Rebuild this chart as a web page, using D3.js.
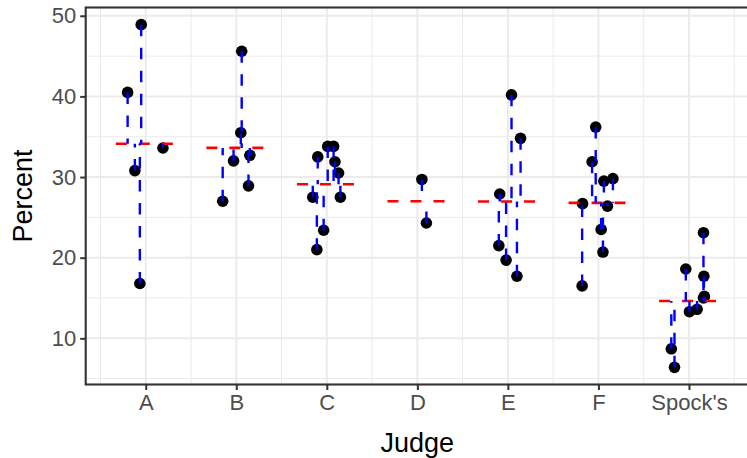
<!DOCTYPE html>
<html>
<head>
<meta charset="utf-8">
<script src="https://cdn.jsdelivr.net/npm/d3@7"></script>
<style>
  html, body { margin: 0; padding: 0; background: #fff; }
  svg { display: block; font-family: "Liberation Sans", Arial, Helvetica, sans-serif; }
</style>
</head>
<body>
<svg id="chart" width="747" height="458"></svg>
<script>
// Percent of women on venires, by judge
const judges = ["A", "B", "C", "D", "E", "F", "Spock's"];

const pctA = [48.9, 40.5, 30.8, 16.8, 33.6];
const pctB = [45.6, 35.5, 32.0, 32.7, 28.9, 27.0];
const pctC = [33.8, 33.8, 32.5, 31.9, 30.5, 27.5, 27.5, 23.4, 21.0];
const pctD = [29.7, 24.3];
const pctE = [40.2, 34.8, 27.9, 21.5, 19.7, 17.7];
const pctF = [36.2, 31.9, 29.5, 29.8, 26.7, 26.4, 23.5, 20.7, 16.5];
const pctSpock = [23.1, 18.6, 17.7, 15.2, 15.0, 13.6, 13.3, 8.7, 6.4];

// horizontal jitter of each venire, in category units
const jitA = [-0.05, -0.20, -0.12, -0.065, 0.19];
const jitB = [0.06, 0.05, -0.03, 0.15, 0.135, -0.15];
const jitC = [0.01, 0.075, -0.10, 0.09, 0.13, -0.155, 0.15, -0.035, -0.11];
const jitD = [0.05, 0.10];
const jitE = [0.04, 0.14, -0.09, -0.10, -0.02, 0.10];
const jitF = [-0.03, -0.07, 0.06, 0.16, -0.175, 0.10, 0.03, 0.05, -0.18];
const jitSpock = [0.16, -0.035, 0.165, 0.17, 0.16, 0.09, 0.005, -0.195, -0.16];

const yTicks = [10, 20, 30, 40, 50];
const yMinor = [5, 15, 25, 35, 45];

const groups = [pctA, pctB, pctC, pctD, pctE, pctF, pctSpock];
const jitters = [jitA, jitB, jitC, jitD, jitE, jitF, jitSpock];

const points = [];
const means = [];
groups.forEach((vals, i) => {
  const m = d3.mean(vals);
  means.push({ pos: i + 1, mean: m });
  vals.forEach((v, j) => points.push({ pos: i + 1 + jitters[i][j], value: v, mean: m }));
});

const halfWidth = 0.33;

const svg = d3.select("#chart");
const panel = { left: 85.7, top: 7.5, right: 749, bottom: 384.5 };

const x = d3.scaleLinear().domain([0.337, 7.663]).range([panel.left, panel.right]);
const y = d3.scaleLinear().domain([4.275, 51.025]).range([panel.bottom, panel.top]);

svg.append("defs").append("clipPath").attr("id", "clip")
  .append("rect")
  .attr("x", panel.left).attr("y", panel.top)
  .attr("width", panel.right - panel.left).attr("height", panel.bottom - panel.top);

const grid = svg.append("g").attr("clip-path", "url(#clip)");
const xMinor = d3.range(0.5, 8, 1);
const xMajor = d3.range(1, 8, 1);

grid.selectAll(".ymin").data(yMinor).join("line")
  .attr("x1", panel.left).attr("x2", panel.right)
  .attr("y1", d => y(d)).attr("y2", d => y(d))
  .attr("stroke", "#EBEBEB").attr("stroke-width", 1);
grid.selectAll(".xmin").data(xMinor).join("line")
  .attr("y1", panel.top).attr("y2", panel.bottom)
  .attr("x1", d => x(d)).attr("x2", d => x(d))
  .attr("stroke", "#EBEBEB").attr("stroke-width", 1);
grid.selectAll(".ymaj").data(yTicks).join("line")
  .attr("x1", panel.left).attr("x2", panel.right)
  .attr("y1", d => y(d)).attr("y2", d => y(d))
  .attr("stroke", "#EBEBEB").attr("stroke-width", 2);
grid.selectAll(".xmaj").data(xMajor).join("line")
  .attr("y1", panel.top).attr("y2", panel.bottom)
  .attr("x1", d => x(d)).attr("x2", d => x(d))
  .attr("stroke", "#EBEBEB").attr("stroke-width", 2);

const marks = svg.append("g").attr("clip-path", "url(#clip)");

// venire points
marks.selectAll("circle").data(points).join("circle")
  .attr("cx", d => x(d.pos)).attr("cy", d => y(d.value))
  .attr("r", 5.8).attr("fill", "#000");

// judge means
marks.selectAll(".mean").data(means).join("line")
  .attr("x1", d => x(d.pos - halfWidth)).attr("x2", d => x(d.pos + halfWidth))
  .attr("y1", d => y(d.mean)).attr("y2", d => y(d.mean))
  .attr("stroke", "#FF0000").attr("stroke-width", 2.6)
  .attr("stroke-dasharray", "11 12");

// residuals from each venire to its judge mean
marks.selectAll(".resid").data(points).join("line")
  .attr("x1", d => x(d.pos)).attr("x2", d => x(d.pos))
  .attr("y1", d => y(d.value)).attr("y2", d => y(d.mean))
  .attr("stroke", "#0000FF").attr("stroke-width", 2.4)
  .attr("stroke-dasharray", "11.5 11.5");

// panel border
svg.append("rect")
  .attr("x", panel.left).attr("y", panel.top)
  .attr("width", panel.right - panel.left).attr("height", panel.bottom - panel.top)
  .attr("fill", "none").attr("stroke", "#333333").attr("stroke-width", 2.1);

// axes
const xAxis = d3.axisBottom(x).tickValues(xMajor)
  .tickFormat(d => judges[d - 1]).tickSize(5.5).tickPadding(4);
const gx = svg.append("g").attr("transform", `translate(0,${panel.bottom})`).call(xAxis);
gx.select(".domain").remove();
gx.selectAll(".tick line").attr("stroke", "#333333").attr("stroke-width", 2);
gx.selectAll(".tick text").attr("fill", "#4D4D4D").attr("font-size", 22)
  .attr("font-family", "Liberation Sans, Arial, sans-serif");

const yAxis = d3.axisLeft(y).tickValues(yTicks).tickSize(5.5).tickPadding(4);
const gy = svg.append("g").attr("transform", `translate(${panel.left},0)`).call(yAxis);
gy.select(".domain").remove();
gy.selectAll(".tick line").attr("stroke", "#333333").attr("stroke-width", 2);
gy.selectAll(".tick text").attr("fill", "#4D4D4D").attr("font-size", 22)
  .attr("font-family", "Liberation Sans, Arial, sans-serif");

// axis titles
svg.append("text")
  .attr("x", (panel.left + panel.right) / 2).attr("y", 451.5)
  .attr("text-anchor", "middle").attr("font-size", 27).attr("fill", "#000")
  .text("Judge");
svg.append("text")
  .attr("transform", `translate(31.5,${(panel.top + panel.bottom) / 2}) rotate(-90)`)
  .attr("text-anchor", "middle").attr("font-size", 27).attr("fill", "#000")
  .text("Percent");
</script>
</body>
</html>
